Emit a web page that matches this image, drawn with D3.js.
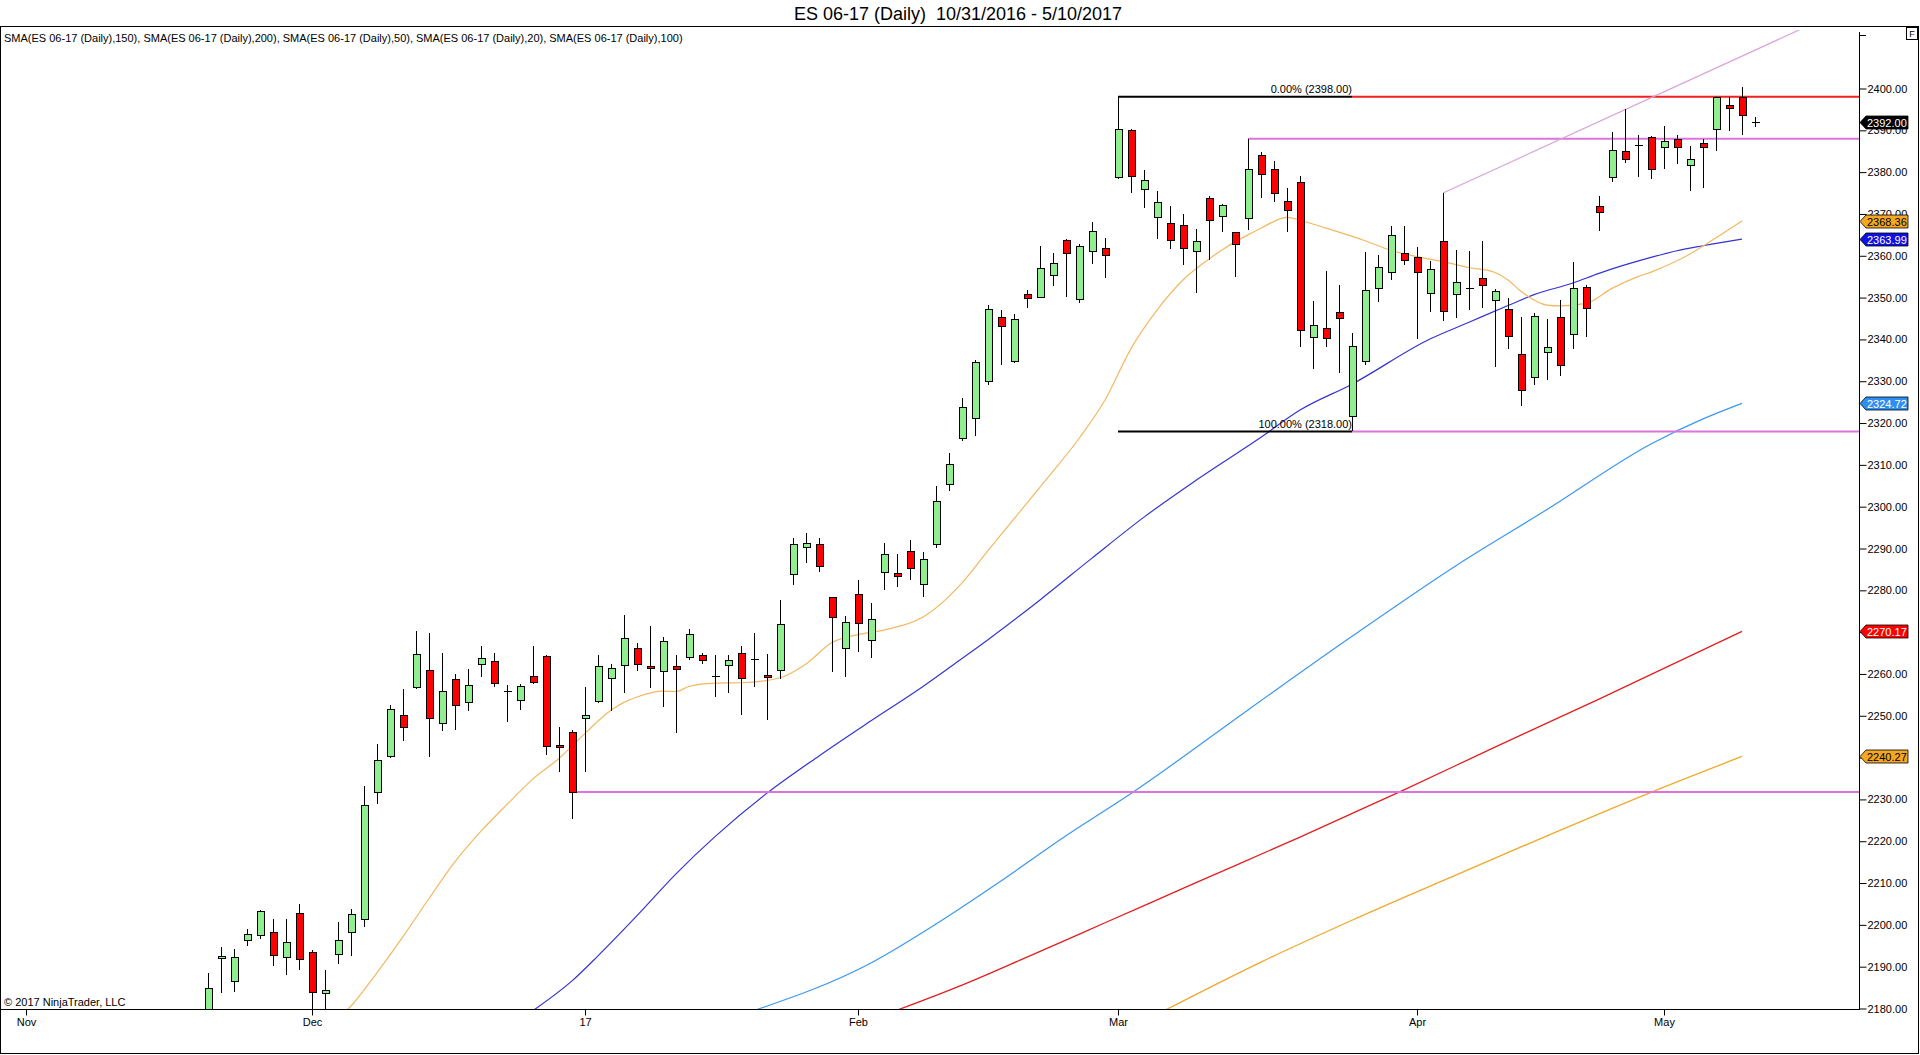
<!DOCTYPE html>
<html>
<head>
<meta charset="utf-8">
<script src="https://cdnjs.cloudflare.com/ajax/libs/d3/7.8.5/d3.min.js"></script>
<style>
html,body{margin:0;padding:0;background:#fff;}
svg{display:block;font-family:Arial,"Liberation Sans",sans-serif;}
</style>
</head>
<body>
<svg id="chart" width="1920" height="1055"></svg>
<script>
// ---------- DATA ----------
const tradingDays = [
  ["2016-10", [31]],
  ["2016-11", [1,2,3,4,7,8,9,10,11,14,15,16,17,18,21,22,23,24,25,28,29,30]],
  ["2016-12", [1,2,5,6,7,8,9,12,13,14,15,16,19,20,21,22,23,27,28,29,30]],
  ["2017-01", [3,4,5,6,9,10,11,12,13,16,17,18,19,20,23,24,25,26,27,30,31]],
  ["2017-02", [1,2,3,6,7,8,9,10,13,14,15,16,17,20,21,22,23,24,27,28]],
  ["2017-03", [1,2,3,6,7,8,9,10,13,14,15,16,17,20,21,22,23,24,27,28,29,30,31]],
  ["2017-04", [3,4,5,6,7,10,11,12,13,17,18,19,20,21,24,25,26,27,28]],
  ["2017-05", [1,2,3,4,5,8,9,10]]
];
const dates = tradingDays.flatMap(([m, days]) => days.map(d => m + "-" + String(d).padStart(2, "0")));

const firstCandleDate = "2016-11-21";
const opens = [
  2178,2191.9,2186.4,2196.2,2197.4,2198.1,2192.1,2202.8,
  2193.5,2183.5,2192.8,2198.1,2201.4,2231.6,2240.2,2250.1,2256.8,2260.8,2248.2,2258.7,2253.2,2262.3,2263.0,2256.0,2253.6,2259.4,2264.2,2242.9,2246.0,
  2249.4,2253.3,2258.9,2262.0,2266.1,2261.8,2260.6,2261.8,2263.9,2264.4,2259.6,2262.0,2264.8,2263.6,2259.6,2260.8,2283.7,2290.2,2290.9,2278.2,2266.0,
  2278.9,2267.9,2284.3,2284.0,2289.4,2281.3,2290.9,2305.3,2316.3,2321.1,2330.0,2345.2,2334.8,2350.7,2350.1,2355.3,2363.6,2349.5,2361.0,2361.7,
  2378.7,2390.0,2375.8,2369.1,2367.7,2367.2,2361.0,2373.7,2369.4,2365.5,2368.9,2384.0,2380.6,2373.0,2377.5,2340.4,2342.6,2346.4,2321.5,2334.8,2352.1,2356.1,2360.5,
  2359.6,2351.0,2363.4,2350.7,2352.3,2354.5,2349.3,2347.1,2336.4,2330.9,2336.8,2345.2,2341.2,2352.3,2371.7,2378.7,2384.9,2386.5,2388.3,
  2386.0,2387.9,2381.7,2386.8,2390.2,2395.9,2397.8,2392.0
];
const highs = [
  2188.6,2194.7,2194.3,2198.9,2203.6,2201.4,2201.5,2205.1,
  2194.1,2189.3,2200.8,2203.8,2233.2,2243.2,2252.5,2256.4,2270.2,2269.8,2265.0,2260.1,2261.1,2266.8,2265.1,2257.3,2257.6,2266.8,2264.5,2247.2,2246.7,
  2256.9,2264.5,2262.5,2274.2,2267.5,2271.4,2268.9,2264.5,2270.7,2264.9,2264.5,2264.6,2266.8,2269.9,2264.7,2277.8,2292.4,2293.7,2292.6,2278.5,2273.8,
  2282.4,2277.0,2291.2,2288.8,2292.1,2289.2,2305.0,2312.9,2326.1,2335.0,2348.2,2347.0,2346.0,2351.7,2362.3,2360.6,2363.9,2362.9,2368.0,2364.2,
  2398.0,2390.2,2380.5,2375.4,2372.0,2370.1,2366.5,2374.2,2372.3,2365.8,2388.0,2384.8,2382.6,2376.3,2379.0,2349.1,2356.3,2352.9,2341.6,2360.8,2360.1,2367.1,2367.1,
  2362.0,2358.7,2375.0,2361.5,2361.1,2363.5,2352.0,2349.8,2345.4,2346.2,2344.8,2349.5,2358.4,2353.1,2374.2,2389.5,2395.0,2389.0,2388.6,
  2391.0,2389.0,2386.2,2388.0,2397.8,2398.0,2400.3,2393.1
];
const lows = [
  2176,2183.7,2183.9,2195.0,2196.6,2190.1,2188.0,2189.3,
  2178.5,2179.0,2190.7,2192.5,2199.6,2228.9,2240.0,2244.0,2256.3,2240.2,2246.4,2246.7,2251.2,2259.3,2256.9,2248.6,2251.3,2257.6,2240.6,2236.6,2225.3,
  2236.6,2253.1,2251.2,2255.5,2260.7,2256.6,2252.1,2245.8,2263.4,2262.4,2254.5,2255.5,2250.1,2256.8,2249.0,2258.9,2281.3,2286.6,2284.3,2260.4,2259.2,
  2265.2,2263.8,2280.1,2280.7,2282.5,2278.3,2290.2,2303.7,2315.7,2317.0,2329.2,2333.8,2334.4,2347.5,2349.9,2352.8,2350.1,2348.8,2358.1,2354.7,
  2378.4,2375.0,2371.4,2364.0,2361.6,2357.9,2351.2,2359.1,2365.7,2354.9,2366.1,2373.7,2372.9,2365.7,2338.2,2332.9,2338.3,2332.0,2318.0,2333.8,2348.9,2354.2,2357.8,
  2340.2,2346.6,2344.4,2345.1,2347.0,2347.5,2333.4,2337.8,2324.1,2329.0,2330.4,2331.3,2337.6,2340.6,2365.9,2377.7,2382.2,2378.9,2378.4,
  2380.8,2381.9,2375.5,2376.2,2385.1,2389.8,2388.8,2390.7
];
const closes = [
  2184.7,2192.5,2192.3,2197.8,2203.3,2192.6,2195.7,2191.6,
  2183.8,2184.3,2196.2,2202.4,2228.6,2239.3,2251.5,2247.2,2264.6,2249.3,2255.8,2252.5,2257.2,2263.7,2257.7,2256.0,2257.0,2257.9,2242.6,2242.4,2231.75,
  2250.1,2261.8,2261.3,2268.5,2262.3,2261.3,2267.8,2261.1,2269.4,2263.2,2259.6,2263.2,2258.9,2263.6,2259.1,2271.8,2290.9,2291.2,2285.8,2273.4,2272.2,
  2272.0,2273.0,2288.5,2283.4,2285.2,2287.3,2301.2,2310.0,2323.6,2334.4,2347.1,2343.0,2344.7,2349.9,2356.9,2358.1,2360.5,2362.2,2365.8,2360.0,
  2390.2,2378.9,2378.0,2372.7,2363.6,2361.7,2363.4,2368.4,2372.0,2362.8,2380.6,2379.4,2374.9,2370.8,2342.1,2343.3,2340.2,2345.0,2338.3,2351.7,2357.2,2364.8,2358.9,
  2356.1,2356.7,2346.7,2353.6,2352.3,2352.9,2351.4,2340.7,2327.8,2345.5,2338.0,2333.7,2352.2,2347.4,2370.3,2385.2,2383.0,2386.5,2380.6,
  2387.3,2386.0,2383.0,2385.8,2397.8,2395.2,2393.5,2392.0
];

// SMA lines, sampled [date, value]
const sma20 = [["2016-12-05",2177.5],["2016-12-06",2180.6],["2016-12-08",2188.6],["2016-12-12",2197.2],["2016-12-14",2206.3],["2016-12-16",2215.1],["2016-12-20",2222.4],["2016-12-22",2228.8],["2016-12-27",2234.9],["2016-12-29",2239.8],["2017-01-03",2245.8],["2017-01-05",2251.3],["2017-01-06",2253.2],["2017-01-09",2254.5],["2017-01-11",2255.9],["2017-01-12",2255.8],["2017-01-13",2257.0],["2017-01-17",2257.8],["2017-01-19",2257.9],["2017-01-24",2259.1],["2017-01-26",2262.4],["2017-01-30",2267.5],["2017-02-01",2269.4],["2017-02-03",2270.5],["2017-02-08",2273.6],["2017-02-13",2281.8],["2017-02-15",2289.5],["2017-02-16",2293.3],["2017-02-21",2304.7],["2017-02-24",2316.3],["2017-02-28",2325.5],["2017-03-02",2337.8],["2017-03-06",2347.0],["2017-03-08",2354.2],["2017-03-10",2359.2],["2017-03-13",2361.4],["2017-03-15",2365.0],["2017-03-16",2366.6],["2017-03-20",2369.2],["2017-03-21",2368.5],["2017-03-23",2366.6],["2017-03-28",2363.6],["2017-03-30",2361.3],["2017-04-03",2359.8],["2017-04-05",2358.6],["2017-04-07",2357.2],["2017-04-11",2356.0],["2017-04-12",2354.2],["2017-04-13",2351.5],["2017-04-18",2348.2],["2017-04-19",2348.0],["2017-04-21",2348.6],["2017-04-25",2352.2],["2017-04-27",2355.0],["2017-04-28",2356.1],["2017-05-03",2360.4],["2017-05-05",2364.3],["2017-05-09",2368.36]];
const sma50 = [["2016-12-27",2179.5],["2016-12-30",2186.6],["2017-01-04",2192.6],["2017-01-09",2202.2],["2017-01-12",2212.2],["2017-01-17",2221.1],["2017-01-23",2231.5],["2017-01-27",2240.4],["2017-02-02",2248.8],["2017-02-08",2257.0],["2017-02-13",2263.7],["2017-02-15",2268.2],["2017-02-21",2277.7],["2017-02-27",2287.7],["2017-03-03",2297.5],["2017-03-09",2306.3],["2017-03-16",2316.6],["2017-03-21",2323.1],["2017-03-27",2329.3],["2017-04-04",2340.1],["2017-04-07",2344.1],["2017-04-12",2348.1],["2017-04-17",2350.7],["2017-04-20",2353.5],["2017-04-24",2355.8],["2017-04-28",2359.6],["2017-05-02",2361.2],["2017-05-04",2362.4],["2017-05-09",2363.99]];
const sma100 = [["2017-01-20",2179.5],["2017-02-02",2190.9],["2017-02-09",2200.2],["2017-02-16",2210.5],["2017-02-23",2221.3],["2017-03-02",2231.4],["2017-03-15",2251.4],["2017-03-27",2269.0],["2017-04-06",2285.9],["2017-04-18",2299.3],["2017-04-28",2315.0],["2017-05-04",2321.0],["2017-05-09",2324.72]];
const sma150 = [["2017-02-06",2179.6],["2017-02-13",2185.6],["2017-02-20",2192.3],["2017-02-28",2200.5],["2017-03-09",2210.1],["2017-03-21",2221.0],["2017-03-31",2232.3],["2017-04-11",2242.5],["2017-04-24",2254.0],["2017-05-09",2270.17]];
const sma200 = [["2017-03-06",2178.6],["2017-03-16",2191.1],["2017-03-27",2201.1],["2017-04-05",2210.6],["2017-04-18",2221.3],["2017-04-28",2231.7],["2017-05-09",2240.27]];

const smaNames = ["SMA(ES 06-17 (Daily),150)","SMA(ES 06-17 (Daily),200)","SMA(ES 06-17 (Daily),50)","SMA(ES 06-17 (Daily),20)","SMA(ES 06-17 (Daily),100)"];
const titleText = "ES 06-17 (Daily)  10/31/2016 - 5/10/2017";

const xTickDates = ["2016-11-01","2016-12-01","2017-01-03","2017-02-01","2017-03-01","2017-04-03","2017-05-01"];
const xTickLabels = ["Nov","Dec","17","Feb","Mar","Apr","May"];
const yTickValues = d3.range(2180, 2401, 10);

// Drawing objects
const fibStart = "2017-03-01", fibEnd = "2017-03-27";
const fibPrices = [2398, 2318];
const fibLabels = ["0.00% (2398.00)", "100.00% (2318.00)"];
const redLevel = [2398];
const pinkStarts = ["2016-12-30", "2017-03-15", "2017-03-27"];
const pinkLevels = [2231.75, 2388, 2318];
const rayDates = ["2017-04-05", "2017-05-01"];
const rayPrices = [2375, 2399.2];

const tagValues = [2392.00, 2368.36, 2363.99, 2324.72, 2270.17, 2240.27];
const tagFills  = ["#000000", "#f5a623", "#1010e0", "#2f8ff0", "#ff0000", "#f5a623"];
const tagTexts  = ["#ffffff", "#000000", "#ffffff", "#ffffff", "#ffffff", "#000000"];

// ---------- CHART ----------
const svg = d3.select("#chart");
const plotRight = 1859, plotTop = 30, plotBottom = 1009;
const idx = new Map(dates.map((d, i) => [d, i]));
const x = d3.scaleLinear().domain([-1, 142]).range([0, plotRight]);
const y = d3.scaleLinear().domain([2180, 2400]).range([1008.5, 88.5]);
const X = d => x(idx.get(d));

svg.append("rect").attr("width", 1920).attr("height", 1055).attr("fill", "#fff");

// Title
svg.append("text").attr("x", 958).attr("y", 20).attr("text-anchor", "middle")
  .attr("font-size", 18).attr("fill", "#000").style("white-space", "pre")
  .attr("xml:space", "preserve").text(titleText);

// outer panel frame
svg.append("rect").attr("x", 0.5).attr("y", 26.5).attr("width", 1918).attr("height", 1027)
  .attr("fill", "none").attr("stroke", "#000").attr("stroke-width", 1);

// legend
svg.append("text").attr("x", 4).attr("y", 42).attr("font-size", 11).attr("fill", "#000")
  .text(smaNames.join(", "));

// F box
svg.append("rect").attr("x", 1906.5).attr("y", 27.5).attr("width", 11).attr("height", 12)
  .attr("fill", "#fff").attr("stroke", "#000");
svg.append("text").attr("x", 1912).attr("y", 37).attr("text-anchor", "middle").attr("font-size", 9).text("F");

// clip
svg.append("defs").append("clipPath").attr("id", "plotclip").append("rect")
  .attr("x", 0).attr("y", plotTop).attr("width", plotRight).attr("height", plotBottom - plotTop);
const plot = svg.append("g").attr("clip-path", "url(#plotclip)");

// SMA lines
const line = d3.line().x(d => X(d[0])).y(d => y(d[1])).curve(d3.curveMonotoneX);
const smaSeries = [
  [sma200, "#f0a82a", 1.3],
  [sma150, "#e41e1e", 1.3],
  [sma100, "#3a98ee", 1.2],
  [sma50,  "#3434d2", 1.2],
  [sma20,  "#f3b860", 1.2]
];
smaSeries.forEach(([data, col, w]) => {
  plot.append("path").datum(data).attr("d", line).attr("fill", "none")
    .attr("stroke", col).attr("stroke-width", w);
});

// Horizontal drawing lines
pinkLevels.forEach((p, i) => {
  plot.append("line").attr("x1", X(pinkStarts[i])).attr("x2", plotRight)
    .attr("y1", y(p)).attr("y2", y(p)).attr("stroke", "#dc74dc").attr("stroke-width", 2);
});
redLevel.forEach(p => {
  plot.append("line").attr("x1", X(fibEnd)).attr("x2", plotRight)
    .attr("y1", y(p)).attr("y2", y(p)).attr("stroke", "#f02020").attr("stroke-width", 2);
});
// ray
{
  const i0 = idx.get(rayDates[0]), i1 = idx.get(rayDates[1]);
  const slope = (rayPrices[1] - rayPrices[0]) / (i1 - i0);
  const iEnd = 142;
  plot.append("line").attr("x1", x(i0)).attr("y1", y(rayPrices[0]))
    .attr("x2", x(iEnd)).attr("y2", y(rayPrices[0] + slope * (iEnd - i0)))
    .attr("stroke", "#d9a2d9").attr("stroke-width", 1.2);
}

// Candles
const c0 = idx.get(firstCandleDate);
const cg = plot.append("g").attr("shape-rendering", "crispEdges");
opens.forEach((o, k) => {
  const cx = Math.round(x(c0 + k));
  const h = highs[k], l = lows[k], c = closes[k];
  cg.append("line").attr("x1", cx + 0.5).attr("x2", cx + 0.5)
    .attr("y1", y(h)).attr("y2", y(l)).attr("stroke", "#000").attr("stroke-width", 1);
  const top = y(Math.max(o, c)), bot = y(Math.min(o, c));
  if (bot - top < 1) {
    cg.append("line").attr("x1", cx - 3.5).attr("x2", cx + 4.5)
      .attr("y1", Math.round(top) + 0.5).attr("y2", Math.round(top) + 0.5)
      .attr("stroke", "#000").attr("stroke-width", 1.5);
  } else {
    cg.append("rect").attr("x", cx - 3).attr("y", top).attr("width", 7).attr("height", bot - top)
      .attr("fill", c >= o ? "#90ee90" : "#ff0000").attr("stroke", "#000").attr("stroke-width", 1);
  }
});

// Fib lines (black) + labels
fibPrices.forEach((p, i) => {
  plot.append("line").attr("x1", X(fibStart)).attr("x2", X(fibEnd))
    .attr("y1", y(p)).attr("y2", y(p)).attr("stroke", "#000").attr("stroke-width", 2);
  svg.append("text").attr("x", X(fibEnd)).attr("y", y(p) - 3.5).attr("text-anchor", "end")
    .attr("font-size", 11).attr("fill", "#000").text(fibLabels[i]);
});

// Axes
const ax = svg.append("g").attr("shape-rendering", "crispEdges");
ax.append("line").attr("x1", 0).attr("x2", plotRight + 0.5).attr("y1", plotBottom + 0.5).attr("y2", plotBottom + 0.5)
  .attr("stroke", "#000");
ax.append("line").attr("x1", plotRight + 0.5).attr("x2", plotRight + 0.5).attr("y1", 32).attr("y2", plotBottom + 1)
  .attr("stroke", "#000");
ax.append("line").attr("x1", plotRight).attr("x2", plotRight + 7).attr("y1", 35.5).attr("y2", 35.5).attr("stroke", "#000");

const xAxis = d3.axisBottom(x)
  .tickValues(xTickDates.map(d => idx.get(d)))
  .tickFormat((v, i) => xTickLabels[i])
  .tickSize(6).tickPadding(3);
const gx = svg.append("g").attr("transform", `translate(0,${plotBottom + 0.5})`).call(xAxis);
gx.select(".domain").remove();
gx.selectAll("text").attr("font-size", 11).attr("fill", "#000").attr("font-family", "Arial,'Liberation Sans',sans-serif");
gx.selectAll("line").attr("stroke", "#000");

const yAxis = d3.axisRight(y).tickValues(yTickValues).tickFormat(d3.format(".2f"))
  .tickSize(7).tickPadding(1);
const gy = svg.append("g").attr("transform", `translate(${plotRight + 0.5},0)`).call(yAxis);
gy.select(".domain").remove();
gy.selectAll("text").attr("font-size", 11).attr("fill", "#000").attr("font-family", "Arial,'Liberation Sans',sans-serif");
gy.selectAll("line").attr("stroke", "#000");

// Price tags
tagValues.forEach((v, i) => {
  const cy = Math.round(y(v)) + 0.5;
  const x0 = plotRight + 1, x1 = x0 + 6, x2 = 1908;
  svg.append("path")
    .attr("d", `M${x0},${cy} L${x1},${cy - 6.5} L${x2},${cy - 6.5} L${x2},${cy + 6.5} L${x1},${cy + 6.5} Z`)
    .attr("fill", tagFills[i]).attr("stroke", "#000").attr("stroke-width", 0.8);
  svg.append("text").attr("x", x1 + 1).attr("y", cy + 4).attr("font-size", 11)
    .attr("fill", tagTexts[i]).text(v.toFixed(2));
});

// copyright
svg.append("text").attr("x", 4).attr("y", 1006).attr("font-size", 11).attr("fill", "#000")
  .text("\u00A9 2017 NinjaTrader, LLC");
</script>
</body>
</html>
